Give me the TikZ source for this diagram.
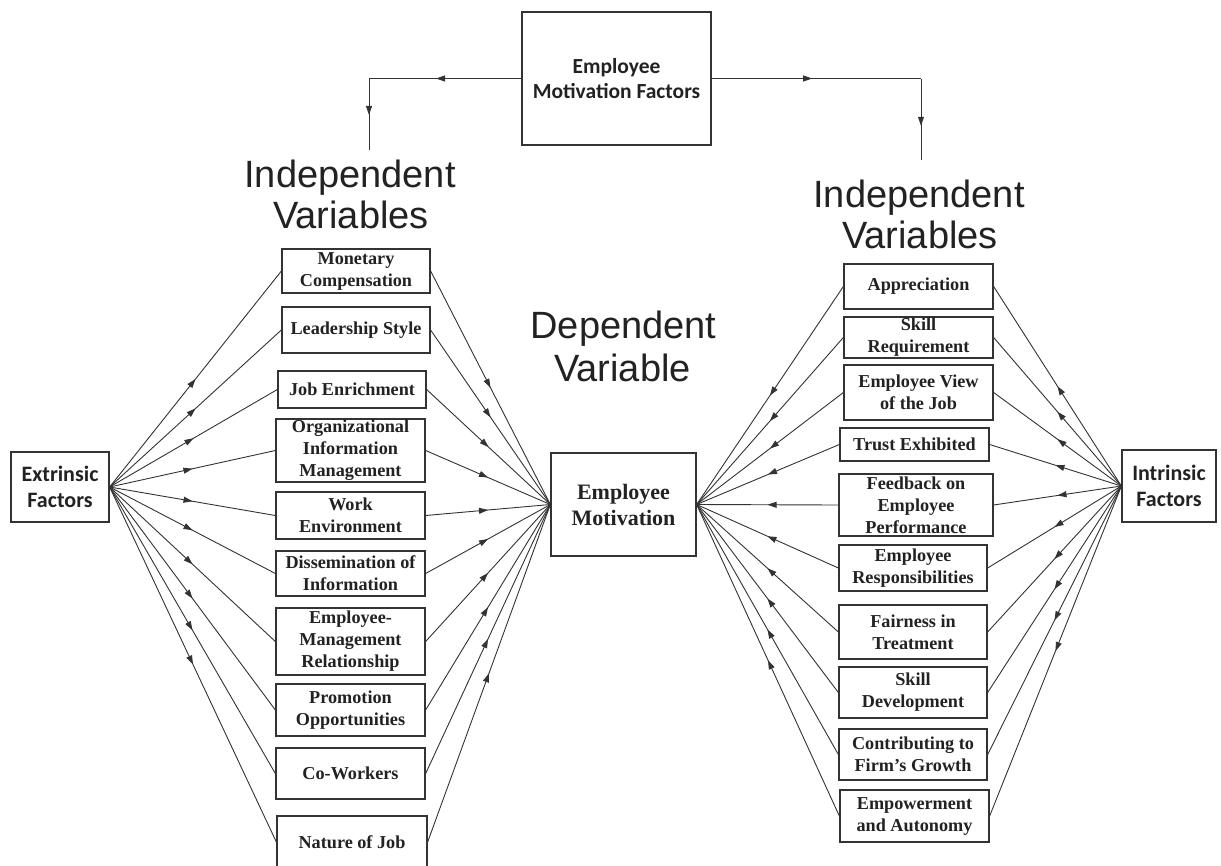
\documentclass[tikz,border=0pt]{standalone}
\usepackage{fontspec}
\setmainfont{Liberation Serif}
\newfontfamily\arialf{Liberation Sans}
\newfontfamily\calibf{Carlito}
\usetikzlibrary{arrows.meta,decorations.markings}
\definecolor{ink}{HTML}{222222}
\definecolor{edge}{HTML}{333333}
\tikzset{
  box/.style={draw=edge, line width=1.3pt, inner sep=0pt, align=center,
    font=\fontsize{18.2}{22}\selectfont\bfseries, text=ink},
  bigbox/.style={box, font=\fontsize{22}{26}\selectfont\bfseries},
  sansbox/.style={box, font=\calibf\fontsize{22}{26}\selectfont\bfseries},
  topbox/.style={box, font=\calibf\fontsize{21.5}{25}\selectfont\bfseries},
  conn/.style={draw=edge, line width=0.9pt, postaction={decorate},
    decoration={markings, mark=at position #1 with {\arrow{Triangle[length=9pt,width=6pt]}}}},
  conn/.default=0.5,
  title/.style={font=\arialf\fontsize{38}{41}\selectfont, anchor=base, text=ink, inner sep=0pt},
}
\begin{document}
\begin{tikzpicture}[x=1pt,y=-1pt]
\useasboundingbox (0,0) rectangle (1221,865);
\fill[white] (0,0) rectangle (1221,865);

% top box
\node[topbox, minimum width=189pt, minimum height=133pt] (top) at (616.5,78.5) {Employee\\Motivation Factors};
\coordinate (tl1) at (369,78.5);
\coordinate (tl2) at (369,150);
\coordinate (tr1) at (921,78.5);
\coordinate (tr2) at (921,160);
\draw[conn=0.56] (top.west) -- (tl1);
\draw[conn=0.51] (tl1) -- (tl2);
\draw[conn=0.48] (top.east) -- (tr1);
\draw[conn=0.58] (tr1) -- (tr2);

% titles
\node[title] (lt1) at (350,187) {Independent};
\node[title] (lt2) at (351,228) {Variables};
\node[title] (rt1) at (919,207) {Independent};
\node[title] (rt2) at (920,248) {Variables};
\node[title] (dt1) at (623.5,338) {Dependent};
\node[title] (dt2) at (622.5,381) {Variable};

% side boxes
\node[sansbox, minimum width=98pt, minimum height=70pt] (ext) at (60,487) {Extrinsic\\Factors};
\node[sansbox, minimum width=94pt, minimum height=72pt] (int) at (1169,486) {Intrinsic\\Factors};
\node[bigbox, minimum width=145pt, minimum height=103pt] (em) at (623.5,504.5) {Employee\\Motivation};

% left boxes
\node[box, minimum width=148pt, minimum height=44pt] (l1) at (356,271) {Monetary\\Compensation};
\node[box, minimum width=148pt, minimum height=46pt] (l2) at (356,330) {Leadership Style};
\node[box, minimum width=148pt, minimum height=37pt] (l3) at (352,389.5) {Job Enrichment};
\node[box, minimum width=149pt, minimum height=63pt] (l4) at (350.5,450.5) {Organizational\\Information\\Management};
\node[box, minimum width=149pt, minimum height=47pt] (l5) at (350.5,515.5) {Work\\Environment};
\node[box, minimum width=149pt, minimum height=45pt] (l6) at (350.5,573.5) {Dissemination of\\Information};
\node[box, minimum width=149pt, minimum height=67pt] (l7) at (350.5,641.5) {Employee-\\Management\\Relationship};
\node[box, minimum width=149pt, minimum height=52pt] (l8) at (350.5,710) {Promotion\\Opportunities};
\node[box, minimum width=149pt, minimum height=51pt] (l9) at (350.5,773.5) {Co-Workers};
\node[box, minimum width=150pt, minimum height=52pt] (l10) at (352,842) {Nature of Job};

% right boxes
\node[box, minimum width=149pt, minimum height=45pt] (r1) at (918.5,286.5) {Appreciation};
\node[box, minimum width=149pt, minimum height=41pt] (r2) at (918.5,337.5) {Skill\\Requirement};
\node[box, minimum width=149pt, minimum height=55pt] (r3) at (918.5,392.5) {Employee View\\of the Job};
\node[box, minimum width=149pt, minimum height=33pt] (r4) at (914.5,444.5) {Trust Exhibited};
\node[box, minimum width=154pt, minimum height=62pt] (r5) at (916,505) {Feedback on\\Employee\\Performance};
\node[box, minimum width=148pt, minimum height=46pt] (r6) at (913,568) {Employee\\Responsibilities};
\node[box, minimum width=148pt, minimum height=54pt] (r7) at (913,632) {Fairness in\\Treatment};
\node[box, minimum width=148pt, minimum height=51pt] (r8) at (913,692.5) {Skill\\Development};
\node[box, minimum width=148pt, minimum height=51pt] (r9) at (913,754.5) {Contributing to\\Firm’s Growth};
\node[box, minimum width=149pt, minimum height=52pt] (r10) at (914.5,816) {Empowerment\\and Autonomy};

% connectors
\foreach \i in {1,...,10} {
  \draw[conn] (ext.east) -- (l\i.west);
  \draw[conn] (l\i.east) -- (em.west);
  \draw[conn] (r\i.west) -- (em.east);
  \draw[conn] (int.west) -- (r\i.east);
}
\end{tikzpicture}
\end{document}
